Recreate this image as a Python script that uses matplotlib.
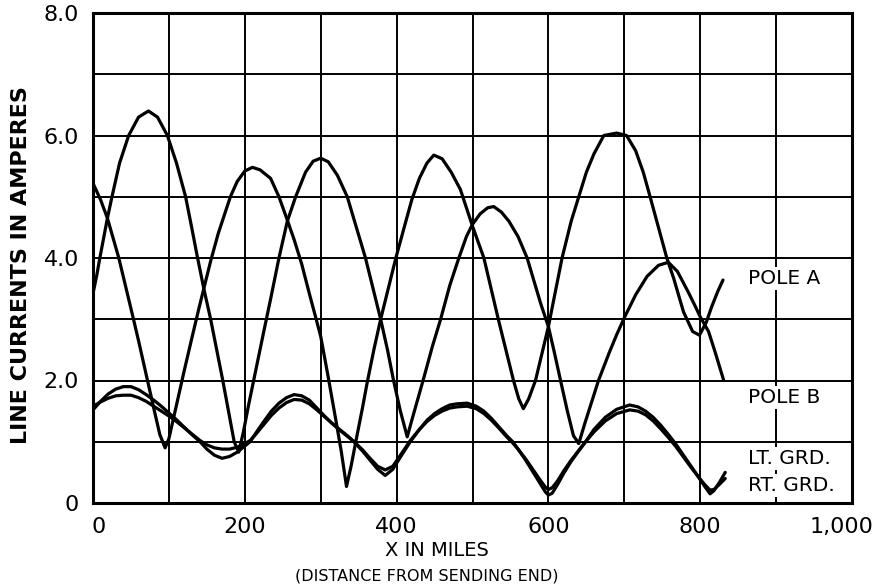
import matplotlib
matplotlib.use("Agg")
import matplotlib.pyplot as plt
import matplotlib.transforms as mtransforms

# ---- data ----
pole_a_x = [0, 10, 19, 34, 52, 60, 70, 80, 88, 95,
            100, 110, 120, 130, 140, 146, 155, 165, 181, 190,
            200, 210, 220, 234, 245, 256, 265, 275, 285, 293,
            300, 310, 320, 327, 334, 340, 347, 355, 361, 370,
            379, 390, 399, 410, 420, 430, 440, 449, 460, 472,
            484, 500, 515, 534, 554, 561, 567, 574, 583, 600,
            618, 630, 640, 650, 660, 673, 690, 703, 715, 725,
            734, 745, 756, 765, 778, 790, 799, 808, 815, 823,
            830]
pole_a_y = [5.22, 4.95, 4.65, 4.0, 3.07, 2.65, 2.1, 1.55, 1.12, 0.9,
            1.05, 1.6, 2.15, 2.68, 3.2, 3.5, 3.95, 4.4, 5.0, 5.25,
            5.42, 5.48, 5.44, 5.3, 5.0, 4.62, 4.3, 3.9, 3.42, 3.05,
            2.72, 2.05, 1.35, 0.85, 0.27, 0.6, 1.05, 1.55, 1.95, 2.5,
            3.0, 3.55, 4.0, 4.5, 4.95, 5.3, 5.55, 5.68, 5.62, 5.4,
            5.12, 4.52, 4.0, 3.0, 2.0, 1.7, 1.54, 1.7, 2.0, 2.88,
            4.0, 4.6, 5.0, 5.4, 5.7, 6.0, 6.04, 6.0, 5.75, 5.4,
            5.0, 4.5, 4.0, 3.67, 3.12, 2.8, 2.74, 2.95, 3.2, 3.45,
            3.64]

pole_b_x = [0, 5, 9, 19, 25, 35, 47, 60, 73, 85,
            98, 110, 122, 130, 137, 146, 155, 171, 186, 192,
            198, 205, 215, 225, 234, 245, 256, 267, 280, 290,
            300, 310, 322, 335, 347, 359, 370, 379, 388, 396,
            405, 414, 420, 428, 436, 447, 458, 470, 482, 492,
            500, 510, 520, 528, 538, 548, 560, 572, 584, 590,
            600, 608, 616, 625, 633, 640, 648, 657, 666, 680,
            690, 701, 715, 730, 745, 758, 770, 784, 792, 800,
            811, 820, 831]
pole_b_y = [3.42, 3.72, 4.0, 4.65, 5.0, 5.55, 6.0, 6.3, 6.4, 6.3,
            6.0, 5.55, 5.0, 4.5, 4.05, 3.5, 3.0, 2.0, 1.0, 0.83,
            1.15, 1.6, 2.2, 2.8, 3.33, 4.0, 4.6, 5.0, 5.4, 5.58,
            5.63, 5.57, 5.35, 5.0, 4.5, 4.0, 3.45, 3.0, 2.5, 2.0,
            1.5, 1.08, 1.35, 1.7, 2.05, 2.55, 3.0, 3.55, 4.0, 4.35,
            4.55, 4.72, 4.82, 4.84, 4.75, 4.6, 4.35, 4.0, 3.5, 3.25,
            2.88, 2.45, 2.0, 1.5, 1.1, 0.97, 1.3, 1.65, 2.0, 2.45,
            2.75, 3.05, 3.4, 3.7, 3.88, 3.93, 3.78, 3.45, 3.25, 3.04,
            2.8, 2.45, 2.0]

grd_x = [0, 10, 20, 30, 40, 50, 60, 70, 80, 90,
         100, 110, 120, 130, 141, 150, 160, 170, 180, 190,
         200, 207, 215, 225, 235, 245, 255, 265, 275, 285,
         295, 305, 315, 325, 335, 344, 355, 365, 375, 385,
         395, 405, 418, 430, 440, 450, 460, 470, 480, 493,
         505, 515, 525, 535, 545, 553, 560, 570, 580, 590,
         596, 600, 605, 612, 620, 630, 640, 649, 660, 675,
         690, 707, 718, 728, 738, 748, 758, 768, 778, 788,
         798, 806, 813, 818, 825, 833]
lt_grd_y = [1.52, 1.66, 1.78, 1.86, 1.9, 1.9, 1.85, 1.77, 1.68, 1.58,
            1.47, 1.36, 1.24, 1.12, 1.0, 0.88, 0.78, 0.73, 0.76, 0.83,
            0.93, 1.0, 1.15, 1.33, 1.5, 1.63, 1.72, 1.77, 1.75, 1.68,
            1.55, 1.42, 1.3, 1.2, 1.1, 1.0, 0.85, 0.7, 0.55, 0.45,
            0.55, 0.75, 1.0, 1.2, 1.35, 1.46, 1.54, 1.6, 1.62, 1.63,
            1.58, 1.5, 1.38, 1.24, 1.1, 1.0, 0.88, 0.7, 0.5, 0.3,
            0.18, 0.13, 0.16, 0.3, 0.48, 0.68, 0.85, 1.0, 1.2, 1.4,
            1.53, 1.6, 1.57, 1.5, 1.4, 1.27, 1.12, 0.96, 0.78, 0.6,
            0.42, 0.27, 0.15, 0.2, 0.33, 0.5]
rt_grd_y = [1.58, 1.65, 1.71, 1.75, 1.76, 1.76, 1.72, 1.66, 1.58, 1.5,
            1.42, 1.33, 1.23, 1.13, 1.02, 0.95, 0.9, 0.88, 0.88, 0.91,
            0.97, 1.02, 1.13, 1.28, 1.43, 1.55, 1.64, 1.69, 1.68, 1.62,
            1.52, 1.41, 1.3, 1.19, 1.09, 1.0, 0.87, 0.73, 0.6, 0.54,
            0.6, 0.78, 1.02, 1.2, 1.33, 1.43, 1.5, 1.55, 1.57, 1.58,
            1.54, 1.46, 1.35, 1.22, 1.08, 0.98, 0.88, 0.72, 0.54, 0.36,
            0.26, 0.22, 0.25, 0.36, 0.52, 0.7, 0.86, 1.0, 1.16, 1.34,
            1.46, 1.52, 1.5, 1.44, 1.34, 1.21, 1.07, 0.92, 0.75, 0.58,
            0.42, 0.3, 0.21, 0.22, 0.3, 0.4]

x_ticks = [0, 200, 400, 600, 800, 1000]
x_tick_labels = ["0", "200", "400", "600", "800", "1,000"]
y_ticks = [0, 2, 4, 6, 8]
y_tick_labels = ["0", "2.0", "4.0", "6.0", "8.0"]

curve_labels = ["POLE A", "POLE B", "LT. GRD.", "RT. GRD."]
curve_label_y = [3.67, 1.72, 0.72, 0.28]

# ---- figure ----
plt.rcParams['font.family'] = ['DejaVu Sans']
fig = plt.figure(figsize=(8.73, 5.88), dpi=100)
ax = fig.add_axes([93 / 873, 1 - 503 / 588, (852 - 93) / 873, (503 - 13) / 588])
ax.set_xlim(0, 1000)
ax.set_ylim(0, 8)

ax.set_xticks(x_ticks)
ax.set_xticklabels(x_tick_labels)
ax.set_xticks(range(0, 1001, 100), minor=True)
ax.set_yticks(y_ticks)
ax.set_yticklabels(y_tick_labels)
ax.set_yticks(range(0, 9), minor=True)
ax.tick_params(which='both', length=0, labelsize=16, pad=10)
ax.grid(which='both', color='black', linewidth=1.4)
ax.set_axisbelow(True)
for sp in ax.spines.values():
    sp.set_linewidth(2.2)

# nudge first and last x tick labels like the original lettering
xlabels = ax.get_xticklabels()
xlabels[0].set_transform(xlabels[0].get_transform() +
                         mtransforms.ScaledTranslation(6 / 100, 0, fig.dpi_scale_trans))
xlabels[-1].set_transform(xlabels[-1].get_transform() +
                          mtransforms.ScaledTranslation(-10 / 100, 0, fig.dpi_scale_trans))

lw = 2.3
kw = dict(color='black', lw=lw, solid_capstyle='round', solid_joinstyle='round', zorder=3)
ax.plot(pole_a_x, pole_a_y, **kw)
ax.plot(pole_b_x, pole_b_y, **kw)
ax.plot(grd_x, lt_grd_y, **kw)
ax.plot(grd_x, rt_grd_y, **kw)

for lab, yv in zip(curve_labels, curve_label_y):
    ax.text(863, yv, lab, fontsize=14.5, ha='left', va='center', zorder=4,
            bbox=dict(facecolor='white', edgecolor='none', pad=1.5))

fig.text(21 / 873, 1 - 265 / 588, "LINE CURRENTS IN AMPERES", rotation=90,
         ha='center', va='center', fontsize=16, fontweight='bold')
fig.text(437 / 873, 1 - 550 / 588, "X IN MILES", ha='center', va='center', fontsize=14)
fig.text(427 / 873, 1 - 576 / 588, "(DISTANCE FROM SENDING END)", ha='center',
         va='center', fontsize=11.5)

fig.savefig("out.png", dpi=100)
